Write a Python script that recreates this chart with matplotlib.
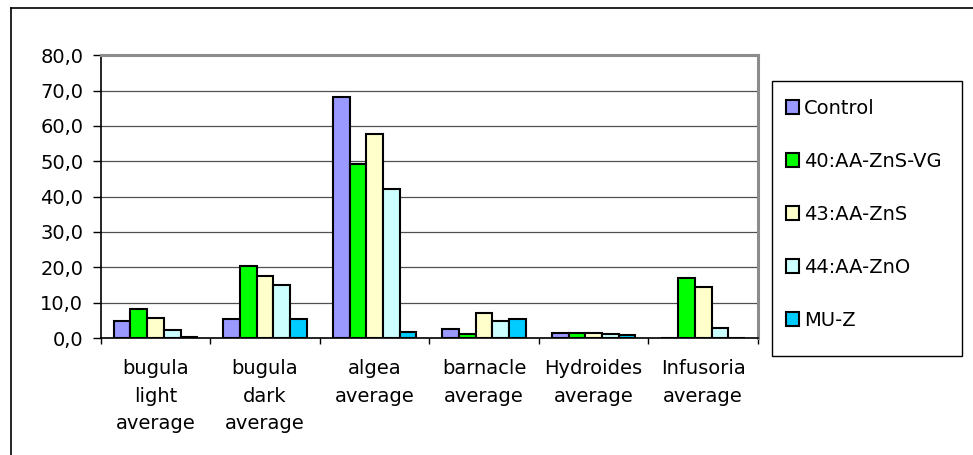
import matplotlib
matplotlib.use("Agg")
import matplotlib.pyplot as plt
from matplotlib.patches import Rectangle
import numpy as np

categories = ["bugula\nlight\naverage", "bugula\ndark\naverage", "algea\naverage",
              "barnacle\naverage", "Hydroides\naverage", "Infusoria\naverage"]
series_names = ["Control", "40:AA-ZnS-VG", "43:AA-ZnS", "44:AA-ZnO", "MU-Z"]
control = [4.8, 5.5, 68.2, 2.5, 1.5, 0.0]
aa_zns_vg = [8.1, 20.4, 49.2, 1.1, 1.5, 17.0]
aa_zns = [5.6, 17.5, 57.8, 7.0, 1.5, 14.4]
aa_zno = [2.3, 15.0, 42.1, 4.9, 1.0, 2.7]
mu_z = [0.4, 5.3, 1.6, 5.3, 0.8, 0.0]
colors = ["#9999FF", "#00FF00", "#FFFFCC", "#CCFFFF", "#00CCFF"]
yticks = [0, 10, 20, 30, 40, 50, 60, 70, 80]

plt.rcParams['font.family'] = ['DejaVu Sans']
FS = 14

W, H = 973, 455
fig = plt.figure(figsize=(W / 100, H / 100), dpi=100)
ax = fig.add_axes([100.7 / W, 1 - 338 / H, (758 - 100.7) / W, (338 - 55.3) / H])

data = [control, aa_zns_vg, aa_zns, aa_zno, mu_z]
n = len(data)
bw = 0.1525
x = np.arange(len(categories))
for i, (vals, c, name) in enumerate(zip(data, colors, series_names)):
    offs = (i - (n - 1) / 2) * bw
    ax.bar(x + offs, vals, width=bw, color=c, edgecolor="black", linewidth=1.5,
           label=name, zorder=3)

ax.set_xlim(-0.5, len(categories) - 0.5)
ax.set_ylim(0, 80)
ax.set_yticks(yticks)
ax.set_yticklabels([f"{v:.1f}".replace(".", ",") for v in yticks], fontsize=FS)
ax.yaxis.grid(True, color="#505050", linewidth=0.9, zorder=0)
ax.set_axisbelow(True)

ax.set_xticks(x)
ax.set_xticklabels(categories, fontsize=FS, linespacing=1.58)
ax.set_xticks(np.arange(-0.5, len(categories)), minor=True)
ax.tick_params(axis="x", which="major", length=0, pad=15)
ax.tick_params(axis="x", which="minor", length=4.5, width=1, direction="out")
ax.tick_params(axis="y", length=5.5, width=1, direction="out", pad=7)

for s in ["left", "bottom"]:
    ax.spines[s].set_color("black")
    ax.spines[s].set_linewidth(1.2)
for s in ["top", "right"]:
    ax.spines[s].set_color("#8c8c8c")
    ax.spines[s].set_linewidth(2.2)

leg = ax.legend(loc="upper left", bbox_to_anchor=(768 / W, 1 - 81 / H, 190 / W, 0),
                bbox_transform=fig.transFigure, mode="expand", fontsize=FS,
                frameon=False, borderpad=0.9,
                labelspacing=1.75, handlelength=0.7, handleheight=0.7,
                handletextpad=0.25, borderaxespad=0)

# legend frame
fig.add_artist(Rectangle((772 / W, 1 - 356 / H), 190 / W, 275 / H, fill=False,
                         edgecolor="black", linewidth=1.0, transform=fig.transFigure))

# outer chart border (top and left visible)
fig.add_artist(plt.Line2D([11 / W, 1], [1 - 8 / H, 1 - 8 / H], color="black",
                          linewidth=1.2, transform=fig.transFigure))
fig.add_artist(plt.Line2D([11 / W, 11 / W], [0, 1 - 8 / H], color="black",
                          linewidth=1.2, transform=fig.transFigure))

fig.savefig("out.png", dpi=100)
